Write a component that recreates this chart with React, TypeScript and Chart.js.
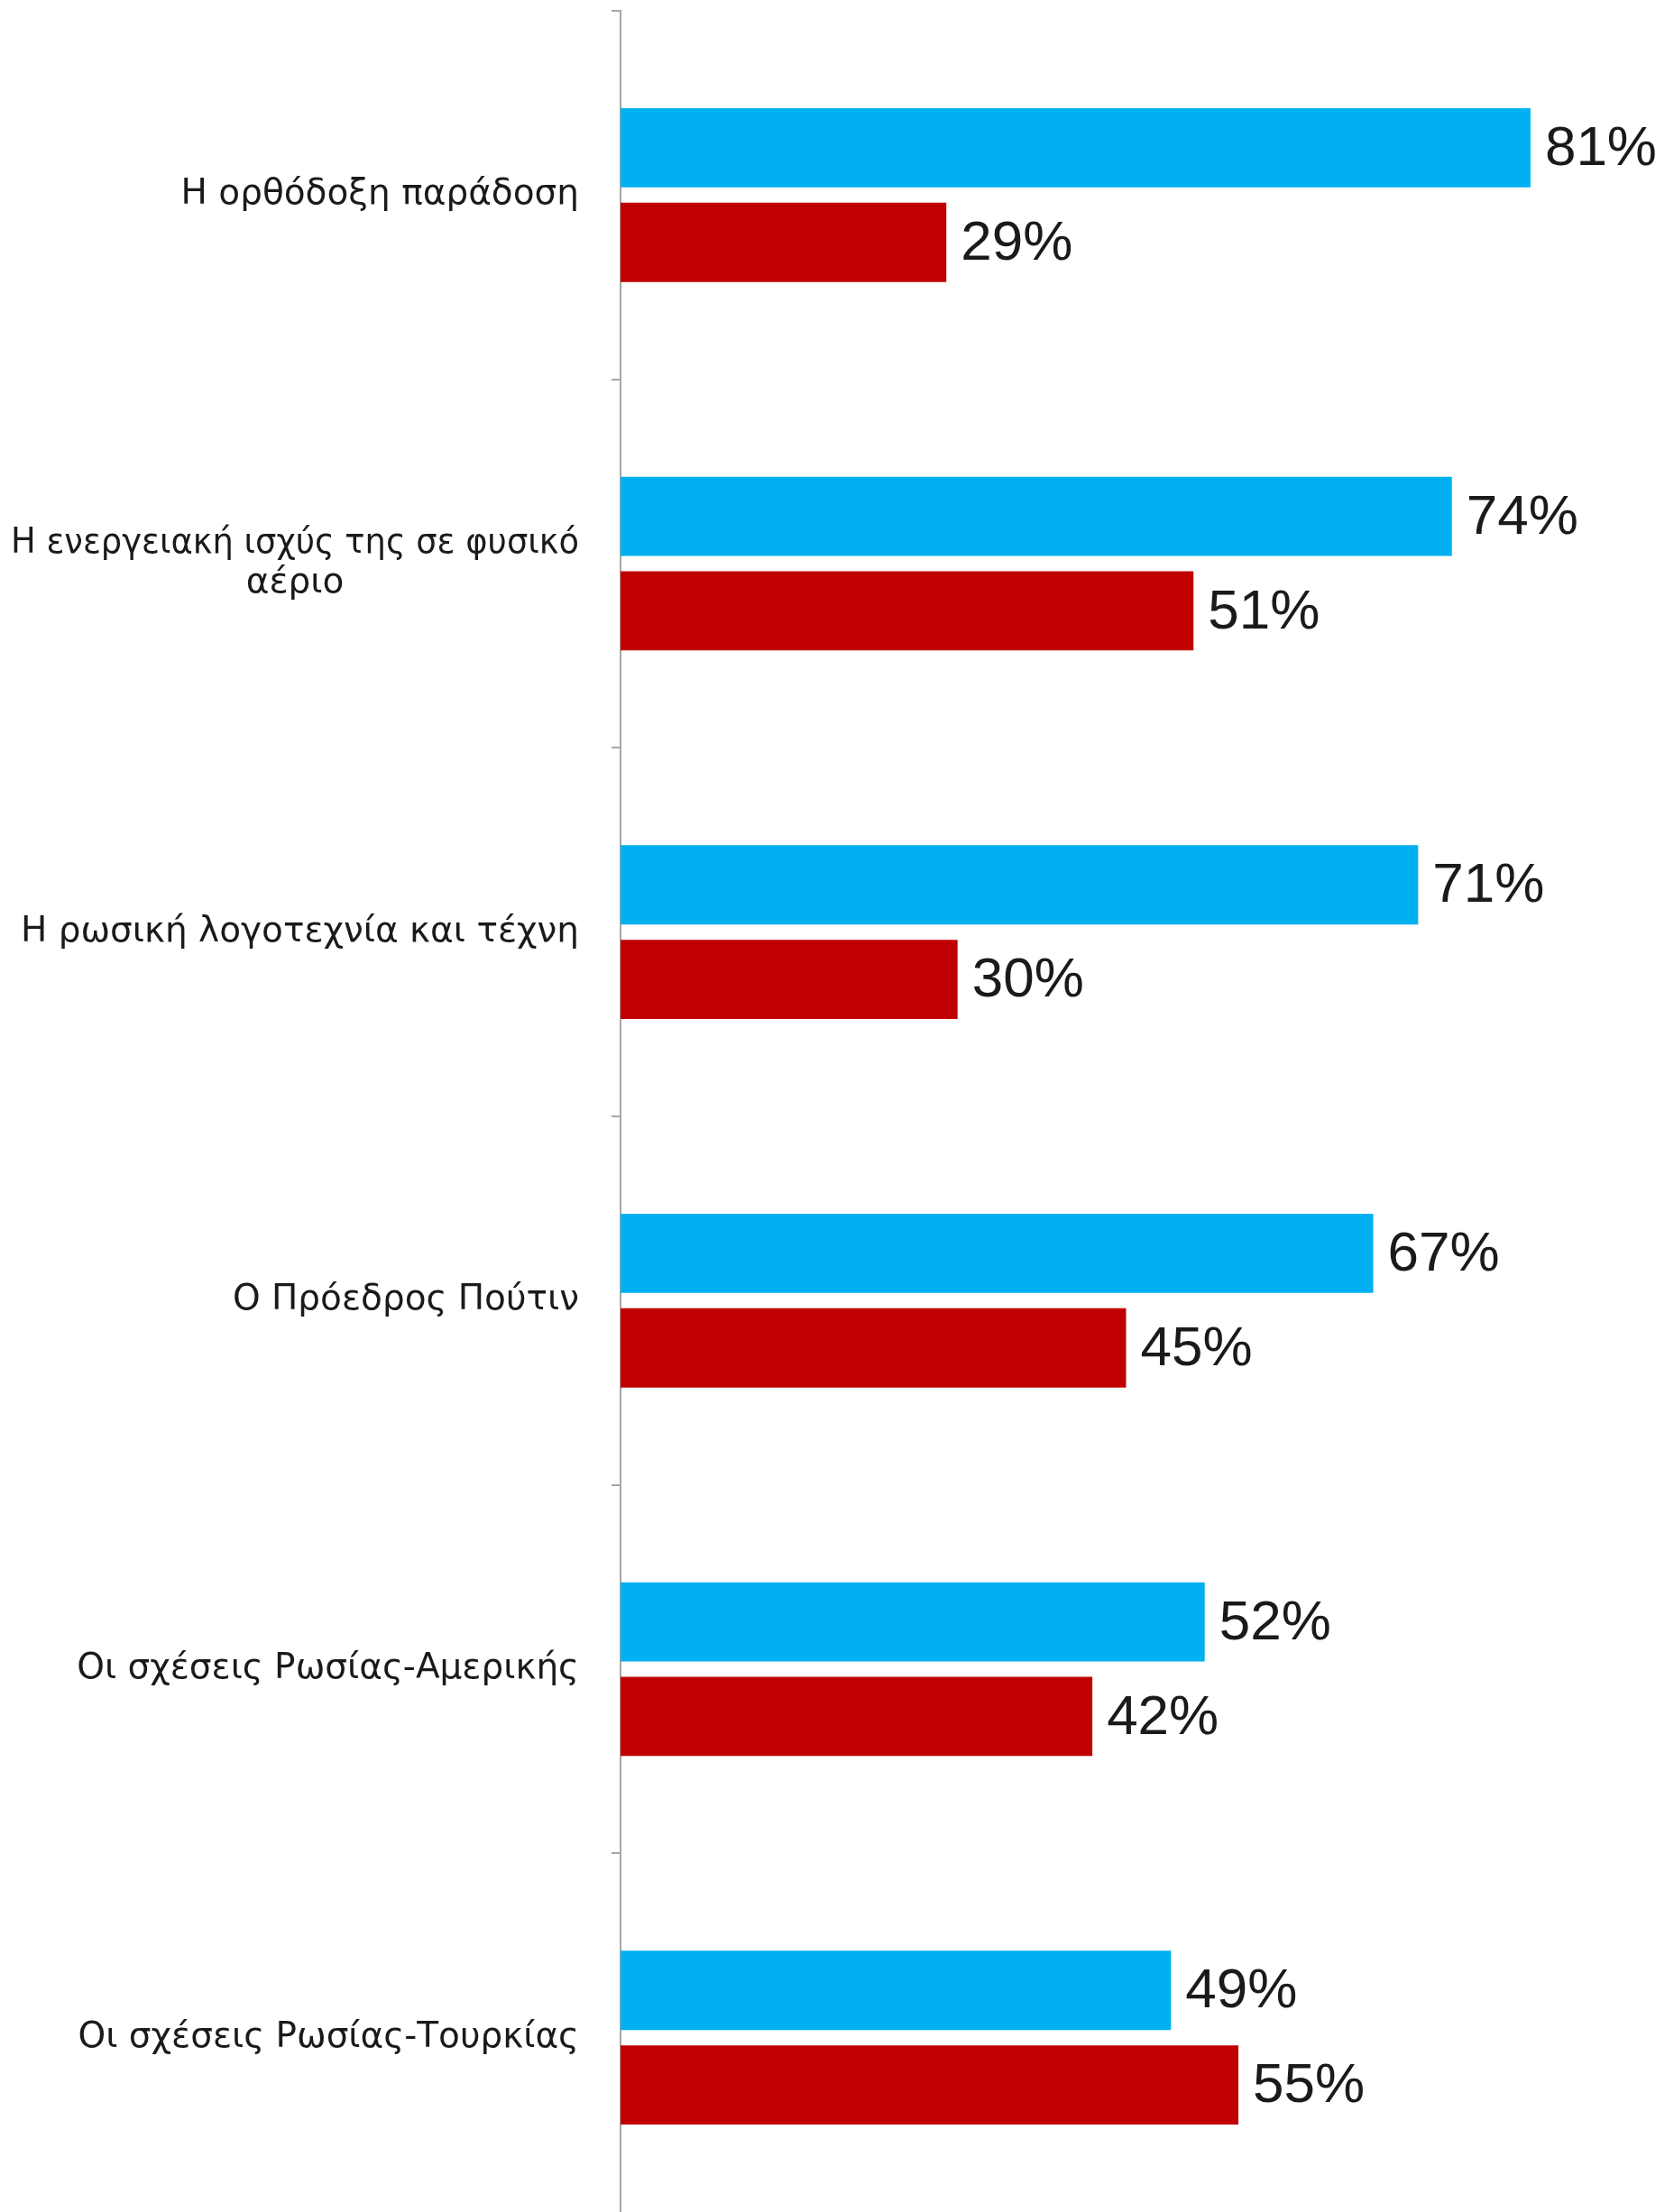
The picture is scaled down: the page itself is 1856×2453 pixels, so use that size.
import React, { useEffect, useRef } from "react";
import { Chart, registerables } from "chart.js";

Chart.register(...registerables);

const categories: string[][] = [
  ["Η ορθόδοξη παράδοση"],
  ["Η ενεργειακή ισχύς της σε φυσικό", "αέριο"],
  ["Η ρωσική λογοτεχνία και τέχνη"],
  ["Ο Πρόεδρος Πούτιν"],
  ["Οι σχέσεις Ρωσίας-Αμερικής"],
  ["Οι σχέσεις Ρωσίας-Τουρκίας"],
];
const seriesBlue: number[] = [81, 74, 71, 67, 52, 49];
const seriesRed: number[] = [29, 51, 30, 45, 42, 55];

const BLUE = "#00B0F0";
const RED = "#C00000";
const TEXT = "#1a1a1a";
const AXIS = "#a6a6a6";
const LABEL_FONT = "39px 'DejaVu Sans'";
const VALUE_FONT = "62px 'Liberation Sans'";

const labelPlugin = {
  id: "customLabels",
  afterDraw(chart: any) {
    const ctx = chart.ctx;
    const yScale = chart.scales.y;
    const rightEdge = chart.chartArea.left - 46;
    const maxAllowed = rightEdge - 12;
    ctx.save();
    ctx.font = LABEL_FONT;
    ctx.fillStyle = TEXT;
    ctx.textBaseline = "middle";
    const lineH = 44;
    categories.forEach((lines, i) => {
      const cy = yScale.getPixelForValue(i);
      const widths = lines.map((l) => Math.min(ctx.measureText(l).width, maxAllowed));
      const maxW = Math.max(...widths);
      const centerX = rightEdge - maxW / 2;
      const startY = cy - ((lines.length - 1) * lineH) / 2;
      lines.forEach((l, j) => {
        ctx.textAlign = "center";
        ctx.fillText(l, centerX, startY + j * lineH, maxAllowed);
      });
    });
    ctx.font = VALUE_FONT;
    ctx.textAlign = "left";
    chart.data.datasets.forEach((ds: any, di: number) => {
      const meta = chart.getDatasetMeta(di);
      meta.data.forEach((bar: any, i: number) => {
        ctx.fillText(ds.data[i] + "%", bar.x + 16, bar.y + 2);
      });
    });
    ctx.restore();
  },
};

export default function App() {
  const ref = useRef<HTMLCanvasElement | null>(null);
  useEffect(() => {
    document.body.style.margin = "0";
    if (!ref.current) return;
    const chart = new Chart(ref.current, {
      type: "bar",
      data: {
        labels: categories.map((c) => c.join(" ")),
        datasets: [
          { data: seriesBlue, backgroundColor: BLUE, barPercentage: 0.838, categoryPercentage: 0.513 },
          { data: seriesRed, backgroundColor: RED, barPercentage: 0.838, categoryPercentage: 0.513 },
        ],
      },
      options: {
        indexAxis: "y",
        animation: false,
        responsive: false,
        maintainAspectRatio: false,
        devicePixelRatio: 1,
        layout: { padding: { top: 12, right: 47, bottom: 6, left: 0 } },
        plugins: { legend: { display: false }, tooltip: { enabled: false } },
        scales: {
          x: {
            min: 0,
            max: 90,
            display: false,
          },
          y: {
            afterFit: (scale: any) => {
              scale.width = 688;
            },
            ticks: { display: false },
            grid: {
              offset: true,
              drawOnChartArea: false,
              drawTicks: true,
              tickLength: 10,
              color: AXIS,
              lineWidth: 2,
            },
            border: { display: true, color: AXIS, width: 2 },
          },
        },
      },
      plugins: [labelPlugin],
    });
    return () => chart.destroy();
  }, []);
  return (
    <div style={{ width: 1856, height: 2453, overflow: "hidden", background: "#fff" }}>
      <canvas ref={ref} width={1856} height={2470} style={{ display: "block" }} />
    </div>
  );
}
